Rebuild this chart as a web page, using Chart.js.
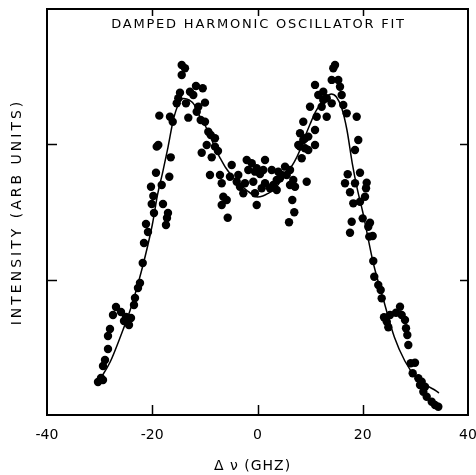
<!DOCTYPE html>
<html>
<head>
<meta charset="utf-8">
<script src="https://cdn.jsdelivr.net/npm/chart.js@4.4.1/dist/chart.umd.min.js"></script>
<style>
  html, body { margin: 0; padding: 0; background: #fff; }
  #wrap { position: relative; width: 476px; height: 475px; }
</style>
</head>
<body>
<div id="wrap"><canvas id="c"></canvas></div>
<script>
// Measured spectrum: frequency shift (GHz) and intensity (arbitrary units)
const freqGHz = [
  -30.31, -29.74, -29.36, -29.36, -28.98, -28.41, -28.41, -28.03, -27.46, -26.89,
  -25.94, -25.37, -24.99, -24.42, -24.04, -23.47, -23.28, -22.71, -22.33, -21.81,
  -21.57, -21.19, -20.81, -20.10, -19.67, -17.96, -17.01, -17.39, -19.80, -20.24,
  -18.20, -17.20, -19.29, -16.76, -16.49, -19.15, -18.85, -18.66, -16.63, -16.11,
  -15.35, -15.05, -14.73, -14.40, -13.78, -14.40, -13.59, -13.15, -12.83, -12.20,
  -11.69, -10.41, -9.98, -11.25, -11.55, -10.79, -9.98, -10.60, -9.35, -8.89,
  -8.08, -9.65, -8.08, -8.70, -9.03, -7.13, -7.51,
  -6.80, -4.90, -5.23, -3.65, -3.95, -3.33, -2.05, -1.10, -1.75, -0.48,
  1.43, 1.10, 2.70, 3.95, 5.23, -0.80, -2.70, -0.48, 0.80, 1.43,
  3.00, 3.65, 5.55, 6.80, 6.18, 7.13, 9.35, -6.50, -5.85, -6.80,
  -0.15, 6.61, 6.99, -5.66, 5.99, 8.40, 9.03, 8.08, 9.65, 9.03,
  -0.15, 0.48, 6.18, -2.38, 4.28, 2.38, 3.65,
  14.73, 14.40, 10.93, 14.10, 15.35, 15.68, 12.50, 11.55, 16.00, 13.15,
  14.10, 16.30, 9.98, 12.20, 16.95, 11.25, 13.15, 18.85, 8.70, 10.93,
  8.08, 9.65, 19.15, 7.75, 10.93, 18.53, 12.50, 8.70, 4.60,
  19.48, 17.14, 16.63, 18.53, 20.75, 20.62, 17.58, 20.43, 18.20, 19.48,
  19.99, 21.38, 17.90, 21.05, 17.58, 21.24, 21.89, 22.00, 22.19, 22.95,
  23.41, 23.60, 27.08, 26.32, 27.40, 25.18, 24.04, 24.55, 28.03, 24.86,
  28.22, 28.47, 28.66, 29.11, 29.93, 29.49, 30.56, 31.20, 30.88, 31.83,
  31.51, 32.15, 33.10, 33.73, 34.36
];
const intensity = [
  0.244, 0.273, 0.259, 0.362, 0.406, 0.488, 0.584, 0.636, 0.739, 0.798,
  0.761, 0.695, 0.724, 0.665, 0.717, 0.813, 0.865, 0.938, 0.975, 1.123,
  1.271, 1.411, 1.352, 1.559, 1.493, 1.559, 1.493, 1.404, 1.618, 1.687,
  1.700, 1.456, 1.790, 1.761, 1.904, 1.983, 1.995, 2.212, 2.204, 2.167,
  2.303, 2.340, 2.382, 2.586, 2.562, 2.512, 2.303, 2.197, 2.389, 2.365,
  2.431, 2.414, 2.308, 2.278, 2.241, 2.180, 2.167, 1.938, 2.093, 2.069,
  2.045, 1.995, 1.983, 1.904, 1.773, 1.773, 1.951,
  1.712, 1.847, 1.761, 1.773, 1.724, 1.687, 1.884, 1.860, 1.810, 1.798,
  1.884, 1.810, 1.810, 1.798, 1.835, 1.724, 1.638, 1.638, 1.675, 1.712,
  1.700, 1.737, 1.773, 1.737, 1.700, 1.687, 1.724, 1.613, 1.589, 1.552,
  1.552, 1.589, 1.498, 1.458, 1.424, 1.897, 1.971, 1.983, 1.958, 2.045,
  1.823, 1.781, 1.810, 1.712, 1.749, 1.675, 1.663,
  2.586, 2.562, 2.439, 2.476, 2.476, 2.426, 2.389, 2.365, 2.365, 2.340,
  2.303, 2.291, 2.278, 2.278, 2.229, 2.204, 2.204, 2.204, 2.167, 2.106,
  2.082, 2.057, 2.032, 1.995, 1.995, 1.958, 2.328, 2.032, 1.773,
  1.790, 1.779, 1.712, 1.712, 1.717, 1.675, 1.646, 1.613, 1.564, 1.576,
  1.453, 1.421, 1.428, 1.391, 1.347, 1.318, 1.323, 1.138, 1.022, 0.961,
  0.924, 0.862, 0.800, 0.756, 0.739, 0.739, 0.722, 0.690, 0.702, 0.648,
  0.641, 0.591, 0.517, 0.382, 0.386, 0.308, 0.271, 0.246, 0.222, 0.209,
  0.172, 0.135, 0.098, 0.074, 0.061
];

// Damped harmonic oscillator fit curve
const fitFreq = [
  -30, -28, -26, -24, -22, -20, -19, -18, -17, -16, -15, -14, -13, -12, -11, -10,
  -9, -8, -7, -6, -5, -4, -3, -2, -1, 0, 1, 2, 3, 4, 5, 6, 7, 8, 9, 10,
  11, 12, 13, 14, 15, 16, 17, 18, 19, 20, 22, 24, 26, 28, 30, 32, 34, 34.5
];
const fitIntensity = [
  0.259, 0.392, 0.584, 0.798, 1.071, 1.404, 1.626, 1.796, 1.980, 2.180, 2.298, 2.339,
  2.328, 2.291, 2.209, 2.143, 2.062, 1.966, 1.892, 1.825, 1.773, 1.729, 1.692, 1.659,
  1.629, 1.611, 1.618, 1.637, 1.663, 1.707, 1.759, 1.810, 1.870, 1.951, 2.054, 2.150,
  2.239, 2.298, 2.346, 2.372, 2.350, 2.268, 2.106, 1.862, 1.663, 1.500, 1.123, 0.842,
  0.576, 0.399, 0.284, 0.222, 0.177, 0.163
];

const xTickValues = [-40, -20, 0, 20, 40];
const yTickValues = [0, 1, 2, 3];

const chartTitle = 'DAMPED HARMONIC OSCILLATOR FIT';
const xAxisTitle = 'Δ ν (GHZ)';
const yAxisTitle = 'INTENSITY (ARB UNITS)';

const FONT = '"DejaVu Sans", "Liberation Sans", sans-serif';

const points = freqGHz.map((v, i) => ({ x: v, y: intensity[i] }));
const fit = fitFreq.map((v, i) => ({ x: v, y: fitIntensity[i] }));

// Frame, inward tick marks and lettering
const frameAndText = {
  id: 'frameAndText',
  afterDraw(chart) {
    const { ctx, chartArea: a, scales: { x, y } } = chart;
    ctx.save();
    ctx.strokeStyle = '#000';
    ctx.lineWidth = 2;
    ctx.strokeRect(a.left, a.top, a.right - a.left, a.bottom - a.top);

    ctx.lineWidth = 1.5;
    const seg = (x1, y1, x2, y2) => { ctx.beginPath(); ctx.moveTo(x1, y1); ctx.lineTo(x2, y2); ctx.stroke(); };
    x.ticks.forEach(t => {
      const px = Math.round(x.getPixelForValue(t.value)) + 0.5;
      if (px <= a.left + 2 || px >= a.right - 2) return;
      seg(px, a.bottom, px, a.bottom - 10);
      seg(px, a.top, px, a.top + 7);
    });
    y.ticks.forEach(t => {
      const py = Math.round(y.getPixelForValue(t.value)) + 0.5;
      if (py <= a.top + 2 || py >= a.bottom - 2) return;
      seg(a.left, py, a.left + 10, py);
      seg(a.right, py, a.right - 8, py);
    });

    ctx.fillStyle = '#000';
    ctx.textAlign = 'center';
    ctx.textBaseline = 'middle';

    ctx.font = '13px ' + FONT;
    ctx.letterSpacing = '1.8px';
    ctx.fillText(chartTitle, (a.left + a.right) / 2 + 1, a.top + 16);

    ctx.font = '14px ' + FONT;
    ctx.letterSpacing = '1px';
    ctx.fillText(xAxisTitle, (a.left + a.right) / 2 - 5, 466);

    ctx.letterSpacing = '3px';
    ctx.translate(17, (a.top + a.bottom) / 2);
    ctx.rotate(-Math.PI / 2);
    ctx.fillText(yAxisTitle, 0, 0);
    ctx.restore();
  }
};

new Chart(document.getElementById('c'), {
  type: 'scatter',
  data: {
    datasets: [
      {
        label: 'data',
        data: points,
        backgroundColor: '#000',
        borderColor: '#000',
        pointRadius: 4.2,
        pointHoverRadius: 4.2,
        pointBorderWidth: 0,
        showLine: false
      },
      {
        label: 'fit',
        data: fit,
        showLine: true,
        borderColor: '#000',
        borderWidth: 1.5,
        pointRadius: 0,
        cubicInterpolationMode: 'monotone',
        fill: false
      }
    ]
  },
  options: {
    responsive: true,
    maintainAspectRatio: false,
    animation: false,
    devicePixelRatio: 1,
    layout: { padding: { left: 0, right: 8, top: 9, bottom: 0 } },
    plugins: { legend: { display: false }, tooltip: { enabled: false }, title: { display: false } },
    scales: {
      x: {
        type: 'linear',
        min: -40,
        max: 40,
        afterBuildTicks: s => { s.ticks = xTickValues.map(v => ({ value: v })); },
        ticks: {
          color: '#000',
          font: { family: FONT, size: 14 },
          padding: 4,
          maxRotation: 0,
          callback: v => String(v)
        },
        grid: { display: false },
        border: { display: false },
        afterFit: s => { s.height = 60; s.paddingLeft = 0; s.paddingRight = 0; }
      },
      y: {
        type: 'linear',
        min: 0,
        max: 3,
        afterBuildTicks: s => { s.ticks = yTickValues.map(v => ({ value: v })); },
        ticks: { display: false },
        grid: { display: false },
        border: { display: false },
        afterFit: s => { s.width = 47; s.paddingTop = 0; s.paddingBottom = 0; }
      }
    }
  },
  plugins: [frameAndText]
});
</script>
</body>
</html>
